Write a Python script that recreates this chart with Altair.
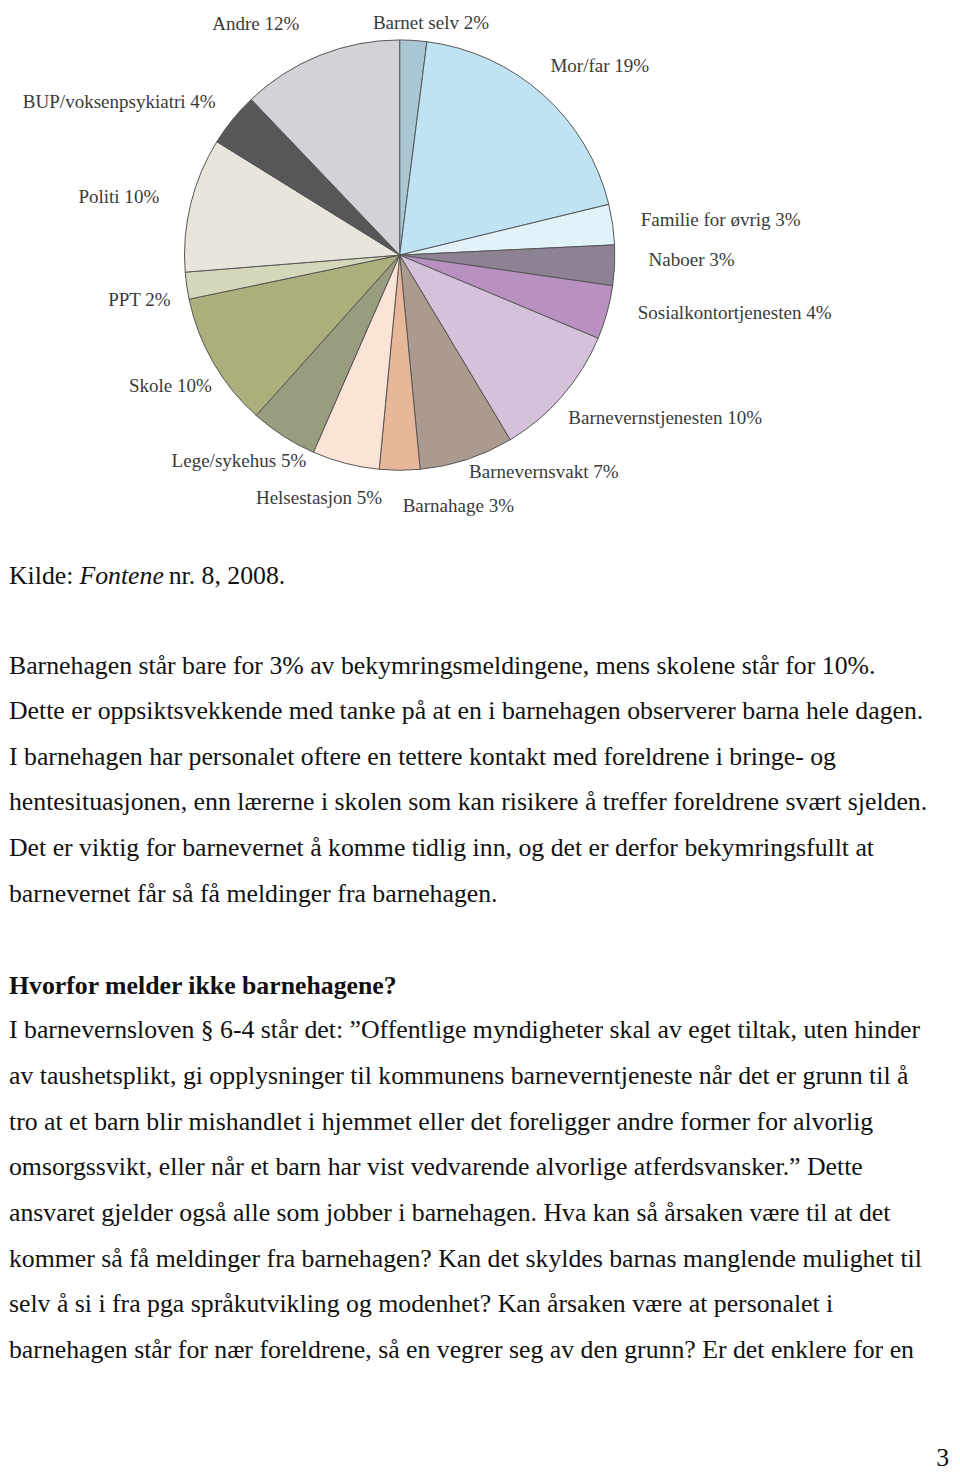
import altair as alt
import pandas as pd

# ---- pie data ----
categories = ["Barnet selv", "Mor/far", "Familie for øvrig", "Naboer",
              "Sosialkontortjenesten", "Barnevernstjenesten", "Barnevernsvakt",
              "Barnahage", "Helsestasjon", "Lege/sykehus", "Skole", "PPT",
              "Politi", "BUP/voksenpsykiatri", "Andre"]
values = [2, 19, 3, 3, 4, 10, 7, 3, 5, 5, 10, 2, 10, 4, 12]
colors = ["#a9c6d3", "#bfe3f3", "#e2f2f9", "#8d8293", "#b891c0", "#d5c1d9",
          "#ab9b8e", "#e8b799", "#fbe3d5", "#9a9c80", "#abaf7c", "#d5d7bb",
          "#e8e6dc", "#57575a", "#d2d3d6"]

# ---- label layout (page pixels: left x, centre y) ----
label_x = [376, 555, 646, 654, 643, 573, 473, 406, 258, 173, 130, 109, 79, 23, 214]
label_y = [22, 65, 221, 261, 314, 420, 475, 509, 501, 464, 388, 301, 197, 102, 23]

# ---- body text ----
kilde_parts = ["Kilde:", "Fontene", "nr. 8, 2008."]
para1 = [
    "Barnehagen står bare for 3% av bekymringsmeldingene, mens skolene står for 10%.",
    "Dette er oppsiktsvekkende med tanke på at en i barnehagen observerer barna hele dagen.",
    "I barnehagen har personalet oftere en tettere kontakt med foreldrene i bringe- og",
    "hentesituasjonen, enn lærerne i skolen som kan risikere å treffer foreldrene svært sjelden.",
    "Det er viktig for barnevernet å komme tidlig inn, og det er derfor bekymringsfullt at",
    "barnevernet får så få meldinger fra barnehagen.",
]
heading = "Hvorfor melder ikke barnehagene?"
para2 = [
    "I barnevernsloven § 6-4 står det: ”Offentlige myndigheter skal av eget tiltak, uten hinder",
    "av taushetsplikt, gi opplysninger til kommunens barneverntjeneste når det er grunn til å",
    "tro at et barn blir mishandlet i hjemmet eller det foreligger andre former for alvorlig",
    "omsorgssvikt, eller når et barn har vist vedvarende alvorlige atferdsvansker.” Dette",
    "ansvaret gjelder også alle som jobber i barnehagen. Hva kan så årsaken være til at det",
    "kommer så få meldinger fra barnehagen? Kan det skyldes barnas manglende mulighet til",
    "selv å si i fra pga språkutvikling og modenhet?  Kan årsaken være at personalet i",
    "barnehagen står for nær foreldrene, så en vegrer seg av den grunn? Er det enklere for en",
]
page_number = "3"

OFF = 8  # page margin
SERIF = "Liberation Serif"
FS = 26
LEFT = 9  # page x of the body text's left edge (page margin is 8px)

pie_df = pd.DataFrame({"cat": categories, "value": values,
                       "idx": list(range(len(categories)))})

pie = alt.Chart(pie_df).mark_arc(radius=217, stroke="#555555",
                                 strokeWidth=1).encode(
    theta=alt.Theta("value:Q", stack=True),
    order=alt.Order("idx:Q"),
    color=alt.Color("cat:N", scale=alt.Scale(domain=categories, range=colors),
                    legend=None),
    x=alt.value(403 - OFF),
    y=alt.value(251 - OFF),
)

lab_df = pd.DataFrame({
    "label": [f"{c} {v}%" for c, v in zip(categories, values)],
    "x": [x - OFF for x in label_x],
    "y": [y - OFF - 5 for y in label_y],
})
labels = alt.Chart(lab_df).mark_text(
    font=SERIF, fontSize=19.2, color="#3a3a3a", align="left",
    baseline="middle").encode(
    x=alt.X("x:Q", scale=None, axis=None),
    y=alt.Y("y:Q", scale=None, axis=None),
    text="label:N",
)

def text_layer(texts, xs, ys, **style):
    df = pd.DataFrame({"t": texts, "x": [x - OFF for x in xs],
                       "y": [y - OFF for y in ys]})
    return alt.Chart(df).mark_text(font=SERIF, fontSize=FS, color="#111111",
                                   baseline="alphabetic", **style).encode(
        x=alt.X("x:Q", scale=None, axis=None),
        y=alt.Y("y:Q", scale=None, axis=None),
        text="t:N",
    )

kilde1 = text_layer([kilde_parts[0]], [LEFT], [583], align="left")
kilde2 = text_layer([kilde_parts[1]], [80], [583], align="left", fontStyle="italic")
kilde3 = text_layer([kilde_parts[2]], [170], [583], align="left")

body1 = text_layer(para1, [LEFT] * len(para1),
                   [673 + 46 * i for i in range(len(para1))], align="left")
head = text_layer([heading], [LEFT], [996], align="left", fontWeight="bold")
body2 = text_layer(para2, [LEFT] * len(para2),
                   [1041 + 46 * i for i in range(len(para2))], align="left")
pnum = text_layer([page_number], [957], [1472], align="right")

chart = alt.layer(pie, labels, kilde1, kilde2, kilde3, body1, head, body2,
                  pnum).properties(
    width=952, height=1466, padding=0,
    autosize=alt.AutoSizeParams(type="none"),
).configure_view(stroke=None)

chart.save("out.html", embed_options={"renderer": "svg", "actions": False})
